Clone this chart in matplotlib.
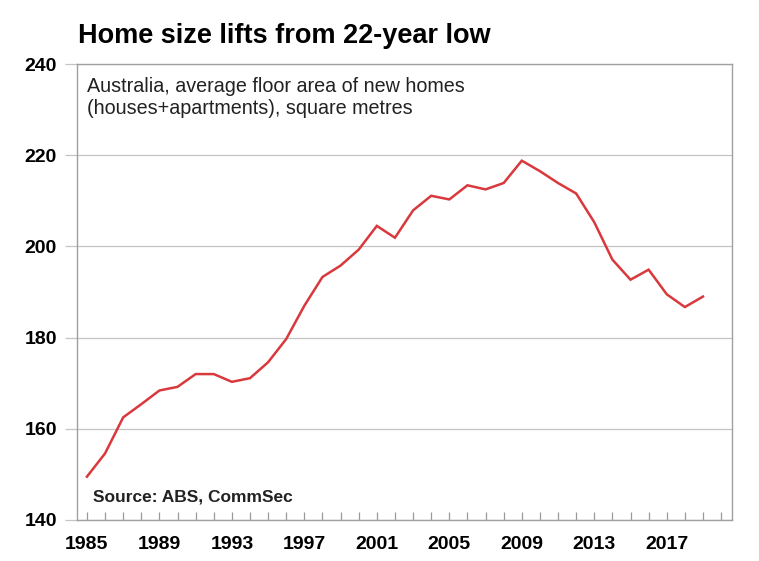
import numpy as np
import matplotlib
matplotlib.use('Agg')
import matplotlib.pyplot as plt

plt.rcParams['font.family'] = ['Liberation Sans', 'DejaVu Sans']

# Average floor area of new homes, square metres
years = np.arange(1985, 2020)
floor_area = [149.5, 154.6, 162.5, 165.4, 168.4, 169.2, 172.0, 172.0, 170.3, 171.1,
              174.6, 179.7, 187.0, 193.3, 195.8, 199.3, 204.5, 201.9, 207.9, 211.1,
              210.3, 213.4, 212.5, 213.9, 218.8, 216.5, 213.9, 211.6, 205.3, 197.1,
              192.7, 194.9, 189.5, 186.7, 189.0]
y_ticks = [140, 160, 180, 200, 220, 240]
x_labelled = [1985, 1989, 1993, 1997, 2001, 2005, 2009, 2013, 2017]

fig = plt.figure(figsize=(7.59, 5.61), dpi=100)
ax = fig.add_axes([0.1014, 0.0731, 0.863, 0.8128])

ax.plot(years, floor_area, color='#d9383c', lw=1.8, solid_joinstyle='miter')

ax.set_ylim(140, 240)
ax.set_xlim(1984.45, 2020.6)
ax.set_yticks(y_ticks)
ax.yaxis.grid(True, color='#c4c4c4', lw=0.9)
ax.set_axisbelow(True)

xt = np.arange(1985, 2021)
ax.set_xticks(xt)
ax.set_xticklabels([str(y) if y in x_labelled else '' for y in xt])

ax.tick_params(axis='x', direction='in', length=6, color='#999999', width=0.9,
               labelsize=14, pad=11.5)
ax.tick_params(axis='y', direction='out', length=8.5, color='#c4c4c4', width=0.9,
               labelsize=14, pad=6)
for lab in ax.get_xticklabels() + ax.get_yticklabels():
    lab.set_fontweight('bold')

for s in ax.spines.values():
    s.set_color('#a0a0a0')
    s.set_linewidth(1.0)

fig.text(0.103, 0.923, 'Home size lifts from 22-year low', fontsize=19.5,
         fontweight='bold', ha='left', va='baseline')
ax.text(0.015, 0.972, 'Australia, average floor area of new homes\n(houses+apartments), square metres',
        transform=ax.transAxes, fontsize=14.2, ha='left', va='top', color='#222222',
        linespacing=1.2)
ax.text(0.024, 0.035, 'Source: ABS, CommSec', transform=ax.transAxes, fontsize=12.5,
        fontweight='bold', ha='left', va='bottom', color='#222222')

fig.savefig('out.png', dpi=100)
